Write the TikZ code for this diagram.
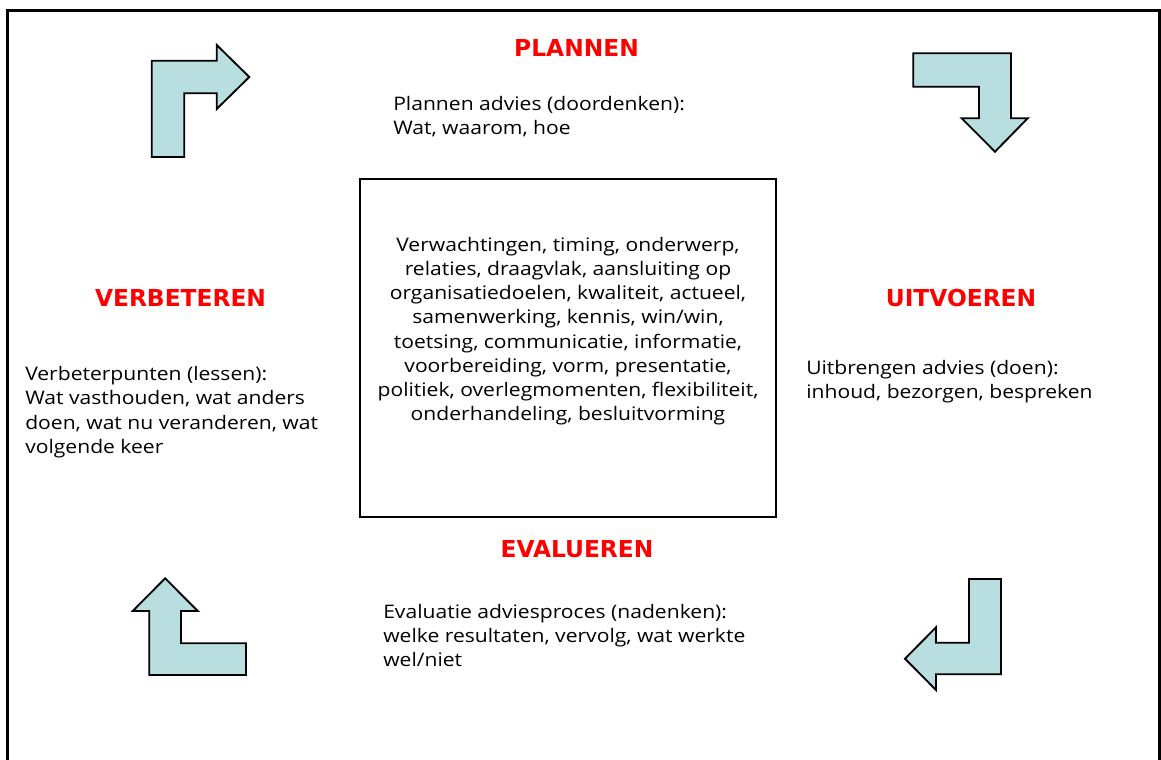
\documentclass[tikz,border=0pt]{standalone}
\usepackage{fontspec}
\setmainfont{Open Sans}[FakeStretch=1.13]
\newfontfamily\titlefont{DejaVu Sans}
\definecolor{arrowfill}{RGB}{185,222,224}
\definecolor{titlered}{RGB}{255,0,0}
\tikzset{
  turnarrow/.style={draw=black,fill=arrowfill,line width=1.4pt,line join=miter},
  frameline/.style={draw=black,line width=1.6pt},
  centerbox/.style={draw=black,line width=1.1pt},
  title/.style={inner sep=0pt,anchor=base,text=titlered,font=\titlefont\bfseries\fontsize{17.5pt}{20pt}\selectfont},
  bodytext/.style={inner sep=0pt,anchor=base west,font=\fontsize{14pt}{18.2pt}\selectfont},
}
\begin{document}
\begin{tikzpicture}[x=0.75pt,y=-0.75pt]
\useasboundingbox (0,0) rectangle (1161,760);
% outer frame (bottom edge is outside the picture)
\draw[frameline] (7.5,775) -- (7.5,10.5) -- (1159.5,10.5) -- (1159.5,775);
% central box
\node[centerbox,minimum width=416*0.75pt,minimum height=338*0.75pt,inner sep=0pt] (box) at (568,348) {};
\node[inner sep=0pt,anchor=base,font=\fontsize{14pt}{18.2pt}\selectfont] (boxtext) at (568,251)
  {\parbox[t]{420pt}{\centering Verwachtingen, timing, onderwerp,\\ relaties, draagvlak, aansluiting op\\ organisatiedoelen, kwaliteit, actueel,\\ samenwerking, kennis, win/win,\\ toetsing, communicatie, informatie,\\ voorbereiding, vorm, presentatie,\\ politiek, overlegmomenten, flexibiliteit,\\ onderhandeling, besluitvorming}};
% arrows
\draw[turnarrow] (151.7,157) -- (151.7,60.7) -- (216.7,60.7) -- (216.7,45) -- (249.3,77) -- (216.7,109) -- (216.7,93.3) -- (184.3,93.3) -- (184.3,157) -- cycle;
\draw[turnarrow] (913.3,53.3) -- (1011,53.3) -- (1011,118.3) -- (1027.7,118.3) -- (995,151.7) -- (961.7,118.3) -- (979,118.3) -- (979,86.7) -- (913.3,86.7) -- cycle;
\draw[turnarrow] (969,579) -- (1001,579) -- (1001,674.3) -- (936,674.3) -- (936,690) -- (905,658.7) -- (936,627.3) -- (936,642.7) -- (969,642.7) -- cycle;
\draw[turnarrow] (246,675) -- (149.3,675) -- (149.3,611) -- (132.7,611) -- (165.2,578.3) -- (197.7,611) -- (181,611) -- (181,643.3) -- (246,643.3) -- cycle;
% titles
\node[title] (plannen) at (576.5,56) {PLANNEN};
\node[title] (verbeteren) at (180.5,306) {VERBETEREN};
\node[title] (uitvoeren) at (961,306) {UITVOEREN};
\node[title] (evalueren) at (577,557) {EVALUEREN};
% body texts
\node[bodytext] (plantext) at (393,110) {\parbox[t]{300pt}{\raggedright Plannen advies (doordenken):\\ Wat, waarom, hoe}};
\node[bodytext] (verbtext) at (25,380.7) {\parbox[t]{300pt}{\raggedright Verbeterpunten (lessen):\\ Wat vasthouden, wat anders\\ doen, wat nu veranderen, wat\\ volgende keer}};
\node[bodytext] (uittext) at (806,374) {\parbox[t]{300pt}{\raggedright Uitbrengen advies (doen):\\ inhoud, bezorgen, bespreken}};
\node[bodytext] (evaltext) at (383,618) {\parbox[t]{300pt}{\raggedright Evaluatie adviesproces (nadenken):\\ welke resultaten, vervolg, wat werkte\\ wel/niet}};
\end{tikzpicture}
\end{document}
